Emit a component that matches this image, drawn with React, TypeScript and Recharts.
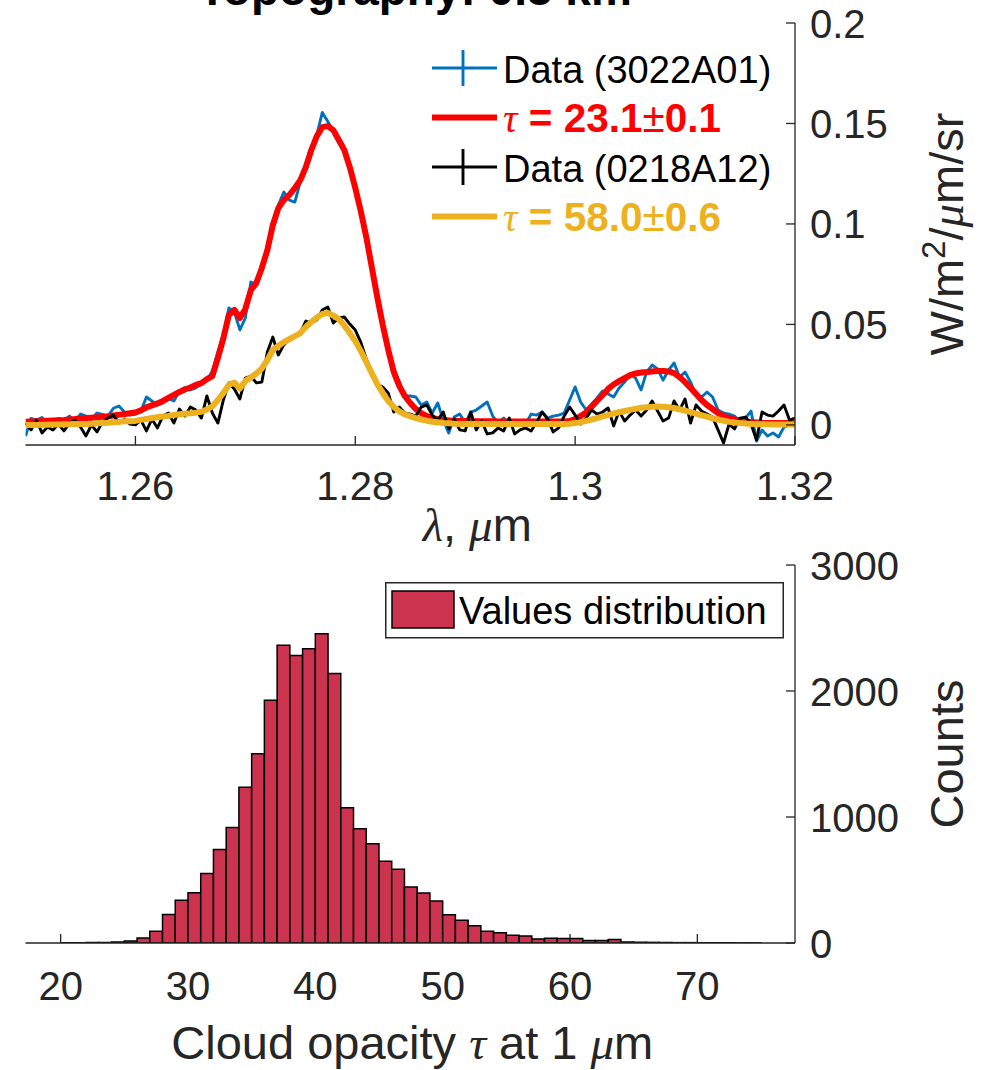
import React from 'react';
import { ComposedChart, Line, Bar, XAxis, YAxis, Legend } from 'recharts';

// wavelength grid, um
const lambda = [
  1.25, 1.2505, 1.251, 1.2515, 1.252, 1.2525, 1.253, 1.2535, 1.254, 1.2545,
  1.255, 1.2555, 1.256, 1.2565, 1.257, 1.2575, 1.258, 1.2585, 1.259, 1.2595,
  1.26, 1.2605, 1.261, 1.2615, 1.262, 1.2625, 1.263, 1.2635, 1.264, 1.2645,
  1.265, 1.2655, 1.266, 1.2665, 1.267, 1.2675, 1.268, 1.2685, 1.269, 1.2695,
  1.27, 1.2705, 1.271, 1.2715, 1.272, 1.2725, 1.273, 1.2735, 1.274, 1.2745,
  1.275, 1.2755, 1.276, 1.2765, 1.277, 1.2775, 1.278, 1.2785, 1.279, 1.2795,
  1.28, 1.2805, 1.281, 1.2815, 1.282, 1.2825, 1.283, 1.2835, 1.284, 1.2845,
  1.285, 1.2855, 1.286, 1.2865, 1.287, 1.2875, 1.288, 1.2885, 1.289, 1.2895,
  1.29, 1.2905, 1.291, 1.2915, 1.292, 1.2925, 1.293, 1.2935, 1.294, 1.2945,
  1.295, 1.2955, 1.296, 1.2965, 1.297, 1.2975, 1.298, 1.2985, 1.299, 1.2995,
  1.3, 1.3005, 1.301, 1.3015, 1.302, 1.3025, 1.303, 1.3035, 1.304, 1.3045,
  1.305, 1.3055, 1.306, 1.3065, 1.307, 1.3075, 1.308, 1.3085, 1.309, 1.3095,
  1.31, 1.3105, 1.311, 1.3115, 1.312, 1.3125, 1.313, 1.3135, 1.314, 1.3145,
  1.315, 1.3155, 1.316, 1.3165, 1.317, 1.3175, 1.318, 1.3185, 1.319, 1.3195,
  1.32,
];

// W/m2/um/sr
const data3022 = [
  -0.0055, 0.0032, 0.0024, 0.0037, 0.0004, 0.0019, 0.0032, 0.0024, 0.0044, 0.0017,
  0.0054, 0.0044, 0.0027, 0.0059, 0.0052, 0.0044, 0.0083, 0.0094, 0.0064, 0.0049,
  0.0054, 0.0069, 0.0139, 0.0119, 0.0099, 0.0109, 0.0131, 0.0119, 0.0169, 0.0186,
  0.0174, 0.0184, 0.0208, 0.0223, 0.0268, 0.0363, 0.0447, 0.0582, 0.0562, 0.0473,
  0.0532, 0.0711, 0.0701, 0.0771, 0.086, 0.101, 0.1094, 0.1159, 0.1119, 0.1109,
  0.1209, 0.1279, 0.1368, 0.1443, 0.1555, 0.151, 0.1462, 0.1403, 0.1368, 0.1298,
  0.1189, 0.1079, 0.093, 0.0781, 0.0621, 0.0487, 0.0373, 0.0283, 0.0213, 0.0144,
  0.0144, 0.0139, 0.0099, 0.0114, 0.0059, 0.0109, 0.0024, -0.004, 0.0039, 0.0054,
  0.0009, 0.0064, 0.0074, 0.0094, 0.0114, 0.0044, 0.0009, 0.0034, 0.0004, 0.0014,
  0.0009, 0.0004, 0.0054, 0.0049, 0.0064, 0.0034, 0.0044, 0.0049, 0.0059, 0.0124,
  0.0189, 0.0114, 0.0074, 0.0104, 0.0134, 0.0169, 0.0154, 0.0139, 0.0184, 0.0213,
  0.0253, 0.0233, 0.0174, 0.0263, 0.0298, 0.0278, 0.0223, 0.0273, 0.0308, 0.0238,
  0.0263, 0.0213, 0.0149, 0.0139, 0.0164, 0.0139, 0.0074, 0.0059, 0.0054, 0.0044,
  0.0014, 0.0034, 0.0069, -0.008, -0.0025, -0.0055, -0.004, -0.006, -0.0011, 0.0,
  0.0009,
];

const fit3022 = [
  0.0016, 0.0017, 0.0018, 0.0019, 0.0021, 0.0022, 0.0023, 0.0024, 0.0027, 0.0029,
  0.0032, 0.0034, 0.0036, 0.0038, 0.004, 0.0043, 0.0047, 0.005, 0.0054, 0.0058,
  0.0062, 0.0072, 0.0087, 0.0097, 0.0107, 0.0119, 0.0134, 0.0149, 0.0164, 0.0176,
  0.0186, 0.0199, 0.0208, 0.0228, 0.0243, 0.0333, 0.0432, 0.0547, 0.0572, 0.0532,
  0.0577, 0.0671, 0.0706, 0.0781, 0.087, 0.0995, 0.1079, 0.1119, 0.1144, 0.1179,
  0.1218, 0.1283, 0.1368, 0.1437, 0.1482, 0.1487, 0.1467, 0.1418, 0.1368, 0.1283,
  0.1179, 0.1064, 0.0935, 0.0786, 0.0636, 0.0497, 0.0373, 0.0263, 0.0194, 0.0144,
  0.0109, 0.0079, 0.0059, 0.0044, 0.0034, 0.0029, 0.0024, 0.0022, 0.0019, 0.0019,
  0.0019, 0.0019, 0.0018, 0.0018, 0.0018, 0.0018, 0.0017, 0.0017, 0.0017, 0.0017,
  0.0017, 0.0017, 0.0017, 0.0017, 0.0017, 0.0017, 0.0017, 0.0017, 0.0017, 0.0019,
  0.0029, 0.0044, 0.0062, 0.009, 0.012, 0.0149, 0.0179, 0.0201, 0.0218, 0.0233,
  0.0248, 0.0256, 0.0261, 0.0263, 0.0266, 0.0268, 0.0268, 0.0266, 0.0258, 0.0238,
  0.0213, 0.0184, 0.0154, 0.0124, 0.0099, 0.0079, 0.0059, 0.0044, 0.0034, 0.0027,
  0.0022, 0.0017, 0.0014, 0.0012, 0.0009, 0.0009, 0.0009, 0.0009, 0.0009, 0.0009,
  0.0009,
];

const data0218 = [
  0.0009, -0.0025, 0.0024, -0.004, -0.001, -0.0025, 0.0004, -0.003, 0.0009, 0.0024,
  -0.001, -0.0055, 0.0, -0.0035, 0.0014, 0.0034, 0.0049, 0.0009, 0.0029, 0.0004,
  0.0, 0.0024, -0.003, 0.0029, -0.0015, 0.0044, 0.0059, 0.0009, 0.0079, 0.0044,
  0.0089, 0.0074, 0.0034, 0.0144, 0.0059, 0.0009, 0.0124, 0.0209, 0.0179, 0.0129,
  0.0233, 0.0243, 0.0209, 0.0213, 0.0363, 0.0437, 0.0348, 0.0398, 0.0427, 0.0442,
  0.0457, 0.0517, 0.0507, 0.0522, 0.0572, 0.0587, 0.0507, 0.0532, 0.0537, 0.0502,
  0.0472, 0.0412, 0.0328, 0.0268, 0.0203, 0.0189, 0.0159, 0.0064, 0.0089, 0.0059,
  0.0054, 0.0044, 0.0089, 0.0099, 0.0049, 0.0024, 0.0064, -0.002, 0.0029, -0.0025,
  -0.003, 0.0064, -0.0025, 0.0019, -0.0045, -0.004, -0.0015, -0.003, 0.0034, -0.0045,
  -0.0025, -0.0015, -0.003, 0.0014, 0.0064, 0.0029, -0.0035, -0.0015, 0.0044, 0.0089,
  0.0049, 0.0004, 0.0034, 0.0074, 0.0054, 0.0064, 0.0084, -0.0005, 0.0069, 0.0019,
  0.0049, 0.0074, 0.0044, 0.0074, 0.0119, 0.0069, 0.0019, 0.0034, 0.0119, 0.0074,
  0.0129, 0.0009, 0.0099, 0.0069, 0.0054, 0.0039, -0.0025, -0.009, 0.0004, -0.002,
  0.0034, 0.0039, 0.0004, -0.0075, 0.0064, 0.0049, 0.0044, 0.0069, 0.0099, 0.0024,
  0.0034,
];

const fit0218 = [
  0.0, 0.0, 0.0, 0.0001, 0.0001, 0.0002, 0.0002, 0.0003, 0.0003, 0.0004,
  0.0004, 0.0005, 0.0006, 0.0008, 0.001, 0.0011, 0.0013, 0.0015, 0.0018, 0.0018,
  0.002, 0.0025, 0.0029, 0.0034, 0.0038, 0.0042, 0.0045, 0.0049, 0.0053, 0.0056,
  0.0058, 0.0061, 0.0065, 0.0077, 0.0092, 0.0124, 0.0159, 0.0199, 0.0211, 0.0181,
  0.0218, 0.0236, 0.0256, 0.0281, 0.0323, 0.0373, 0.0393, 0.0412, 0.0427, 0.0442,
  0.0457, 0.0487, 0.0512, 0.0534, 0.0552, 0.0557, 0.0544, 0.0527, 0.0495, 0.0457,
  0.0417, 0.0368, 0.0313, 0.0258, 0.0203, 0.0159, 0.0119, 0.0089, 0.0067, 0.0052,
  0.0043, 0.0034, 0.0027, 0.0021, 0.0016, 0.0013, 0.001, 0.0008, 0.0006, 0.0005,
  0.0005, 0.0005, 0.0004, 0.0004, 0.0004, 0.0004, 0.0004, 0.0004, 0.0004, 0.0004,
  0.0004, 0.0004, 0.0004, 0.0004, 0.0004, 0.0004, 0.0004, 0.0004, 0.0004, 0.0006,
  0.0009, 0.0014, 0.002, 0.0027, 0.0034, 0.0042, 0.0049, 0.0057, 0.0063, 0.0069,
  0.0075, 0.008, 0.0085, 0.0088, 0.009, 0.0091, 0.009, 0.0088, 0.0084, 0.0078,
  0.0071, 0.0064, 0.0056, 0.0048, 0.0041, 0.0033, 0.0027, 0.0021, 0.0016, 0.0012,
  0.0009, 0.0007, 0.0005, 0.0004, 0.0003, 0.0003, 0.0002, 0.0002, 0.0002, 0.0002,
  0.0002,
];

// histogram: bin centres and counts
const tauBins = [
  20.5, 21.5, 22.5, 23.5, 24.5, 25.5, 26.5, 27.5, 28.5, 29.5,
  30.5, 31.5, 32.5, 33.5, 34.5, 35.5, 36.5, 37.5, 38.5, 39.5,
  40.5, 41.5, 42.5, 43.5, 44.5, 45.5, 46.5, 47.5, 48.5, 49.5,
  50.5, 51.5, 52.5, 53.5, 54.5, 55.5, 56.5, 57.5, 58.5, 59.5,
  60.5, 61.5, 62.5, 63.5, 64.5, 65.5, 66.5, 67.5, 68.5, 69.5,
  70.5, 71.5, 72.5, 73.5, 74.5,
];
const tauCounts = [
  2, 2, 3, 4, 7, 15, 40, 94, 226, 340,
  398, 552, 742, 917, 1237, 1502, 1927, 2363, 2282, 2335,
  2454, 2139, 1073, 906, 787, 648, 585, 444, 397, 333,
  225, 180, 137, 93, 82, 61, 55, 32, 37, 35,
  35, 19, 19, 27, 8, 6, 5, 4, 3, 3,
  2, 2, 2, 1, 1,
];

const lambdaTicks = [1.26, 1.28, 1.3, 1.32];
const radianceTicks = [0, 0.05, 0.1, 0.15, 0.2];
const tauTicks = [20, 30, 40, 50, 60, 70];
const countTicks = [0, 1000, 2000, 3000];
const legendOrder = ['d1', 'f1', 'd2', 'f2'];

const spectra = lambda.map((lam, i) => ({
  lam,
  d1: data3022[i],
  f1: fit3022[i],
  d2: data0218[i],
  f2: fit0218[i],
}));
const hist = tauBins.map((tau, i) => ({ tau, count: tauCounts[i] }));

const SANS = '"Liberation Sans", Arial, Helvetica, sans-serif';
const SERIF = '"Liberation Serif", "Times New Roman", serif';
const AXIS = '#262626';
const BAR = '#CB334E';
const TICK_LEN = 9;
const TICK_FONT = 40;
const LABEL_FONT = 47;
const NOISE_W = 2.9;
const FIT_W = 6;

function XTick(props: any) {
  const { x, y, payload, side, dy } = props;
  const inward = side === 'bottom' ? -TICK_LEN : TICK_LEN;
  return (
    <g>
      <line x1={x} y1={y} x2={x} y2={y + inward} stroke={AXIS} strokeWidth={1.3} />
      {side === 'bottom' && (
        <text x={x} y={y + dy} textAnchor="middle" fontFamily={SANS} fontSize={TICK_FONT} fill={AXIS}>
          {String(payload.value)}
        </text>
      )}
    </g>
  );
}

function YTick(props: any) {
  const { x, y, payload, side } = props;
  const inward = side === 'right' ? -TICK_LEN : TICK_LEN;
  return (
    <g>
      <line x1={x} y1={y} x2={x + inward} y2={y} stroke={AXIS} strokeWidth={1.3} />
      {side === 'right' && (
        <text x={x + 15} y={y + 14.5} textAnchor="start" fontFamily={SANS} fontSize={TICK_FONT} fill={AXIS}>
          {String(payload.value)}
        </text>
      )}
    </g>
  );
}

const axisLine = { stroke: AXIS, strokeWidth: 1.3 };

function SpectraLegend(props: any) {
  const items = [...(props.payload || [])].sort(
    (a: any, b: any) => legendOrder.indexOf(String(a.dataKey)) - legendOrder.indexOf(String(b.dataKey)),
  );
  return (
    <svg width={370} height={200} style={{ overflow: 'visible' }}>
      {items.map((it: any, i: number) => {
        const cy = 28 + i * 49.5;
        const isFit = String(it.dataKey).startsWith('f');
        const name = String(it.value);
        const pm = name.indexOf('±');
        return (
          <g key={i}>
            <line x1={7} y1={cy} x2={72} y2={cy} stroke={it.color} strokeWidth={isFit ? FIT_W : NOISE_W} />
            {!isFit && <line x1={38} y1={cy - 18} x2={38} y2={cy + 18} stroke={it.color} strokeWidth={NOISE_W} />}
            {isFit ? (
              <text x={78} y={cy + 14.5} fontFamily={SANS} fontSize={40.5} fill={it.color}>
                <tspan fontFamily={SERIF} fontStyle="italic">{name.slice(0, 1)}</tspan>
                <tspan fontWeight="bold">{name.slice(1, pm)}</tspan>
                <tspan>±</tspan>
                <tspan fontWeight="bold">{name.slice(pm + 1)}</tspan>
              </text>
            ) : (
              <text x={78} y={cy + 14.5} fontFamily={SANS} fontSize={38} fill="#000">
                {name}
              </text>
            )}
          </g>
        );
      })}
    </svg>
  );
}

function HistLegend(props: any) {
  const it = (props.payload || [])[0];
  return (
    <svg width={400} height={58}>
      <rect x={0.75} y={0.75} width={397.5} height={55} fill="#fff" stroke={AXIS} strokeWidth={1.5} />
      <rect x={7} y={9} width={62} height={37} fill={it ? it.color : BAR} stroke="#000" strokeWidth={1.5} />
      <text x={74} y={42} fontFamily={SANS} fontSize={38} fill="#000">
        {it ? it.value : 'Values distribution'}
      </text>
    </svg>
  );
}

export default function App() {
  return (
    <div style={{ position: 'absolute', left: 0, top: 0, width: 986, height: 1070, background: '#fff', overflow: 'hidden' }}>
      <svg width={986} height={30} style={{ position: 'absolute', left: 0, top: 0 }}>
        <text x={415} y={5} textAnchor="middle" fontFamily={SANS} fontWeight="bold" fontSize={46} fill="#000">
          Topography: 0.5 km
        </text>
      </svg>

      <div style={{ position: 'absolute', left: 0, top: 0 }}>
        <ComposedChart width={986} height={555} data={spectra} margin={{ top: 23, right: 0, bottom: 0, left: 25.5 }}>
          <XAxis
            xAxisId="b"
            dataKey="lam"
            type="number"
            domain={[1.25, 1.32]}
            ticks={lambdaTicks}
            interval={0}
            allowDataOverflow
            height={110}
            tickSize={0}
            tickMargin={0}
            tickLine={false}
            axisLine={axisLine}
            tick={(p: any) => <XTick {...p} side="bottom" dy={55} />}
            label={(p: any) => {
              const vb = p.viewBox;
              return (
                <text x={vb.x + vb.width / 2 + 67} y={vb.y + 96} textAnchor="middle" fontFamily={SANS} fontSize={LABEL_FONT} fill={AXIS}>
                  <tspan fontFamily={SERIF} fontStyle="italic">λ</tspan>
                  <tspan>, </tspan>
                  <tspan fontFamily={SERIF} fontStyle="italic">μ</tspan>
                  <tspan>m</tspan>
                </text>
              );
            }}
          />
          <XAxis
            xAxisId="t"
            dataKey="lam"
            type="number"
            orientation="top"
            domain={[1.25, 1.32]}
            ticks={lambdaTicks}
            interval={0}
            allowDataOverflow
            height={0}
            tickSize={0}
            tickMargin={0}
            tickLine={false}
            axisLine={axisLine}
            tick={(p: any) => <XTick {...p} side="top" />}
          />
          <YAxis
            yAxisId="r"
            orientation="right"
            type="number"
            domain={[-0.01, 0.2]}
            ticks={radianceTicks}
            interval={0}
            allowDataOverflow
            width={191}
            tickSize={0}
            tickMargin={0}
            tickLine={false}
            axisLine={axisLine}
            tick={(p: any) => <YTick {...p} side="right" />}
            label={(p: any) => {
              const vb = p.viewBox;
              const cx = vb.x + 168;
              const cy = vb.y + vb.height / 2;
              return (
                <text x={cx} y={cy} transform={`rotate(-90, ${cx}, ${cy})`} textAnchor="middle" fontFamily={SANS} fontSize={LABEL_FONT} fill={AXIS}>
                  <tspan>W/m</tspan>
                  <tspan dy={-18} fontSize={33}>2</tspan>
                  <tspan dy={18}>/</tspan>
                  <tspan fontFamily={SERIF} fontStyle="italic">μ</tspan>
                  <tspan>m/sr</tspan>
                </text>
              );
            }}
          />
          <YAxis
            yAxisId="l"
            orientation="left"
            type="number"
            domain={[-0.01, 0.2]}
            ticks={radianceTicks}
            interval={0}
            allowDataOverflow
            width={0}
            tickSize={0}
            tickMargin={0}
            tickLine={false}
            axisLine={axisLine}
            tick={(p: any) => <YTick {...p} side="left" />}
          />
          <Line xAxisId="b" yAxisId="r" type="linear" dataKey="d1" name="Data (3022A01)" stroke="#0072BD" strokeWidth={NOISE_W} strokeLinejoin="round" dot={false} isAnimationActive={false} />
          <Line xAxisId="b" yAxisId="r" type="linear" dataKey="f1" name="τ = 23.1±0.1" stroke="#FF0000" strokeWidth={FIT_W} strokeLinejoin="round" dot={false} isAnimationActive={false} />
          <Line xAxisId="b" yAxisId="r" type="linear" dataKey="d2" name="Data (0218A12)" stroke="#000000" strokeWidth={NOISE_W} strokeLinejoin="round" dot={false} isAnimationActive={false} />
          <Line xAxisId="b" yAxisId="r" type="linear" dataKey="f2" name="τ = 58.0±0.6" stroke="#EDB120" strokeWidth={FIT_W} strokeLinejoin="round" dot={false} isAnimationActive={false} />
          <Legend
            layout="vertical"
            align="center"
            verticalAlign="middle"
            wrapperStyle={{ left: 425, top: 40, width: 370, height: 200 }}
            content={(p: any) => <SpectraLegend {...p} />}
          />
        </ComposedChart>
      </div>

      <div style={{ position: 'absolute', left: 0, top: 530 }}>
        <ComposedChart width={986} height={540} data={hist} margin={{ top: 35, right: 0, bottom: 0, left: 25.5 }}>
          <XAxis
            xAxisId="b"
            dataKey="tau"
            type="number"
            domain={[17.24, 77.67]}
            ticks={tauTicks}
            interval={0}
            allowDataOverflow
            height={127}
            tickSize={0}
            tickMargin={0}
            tickLine={false}
            axisLine={axisLine}
            tick={(p: any) => <XTick {...p} side="bottom" dy={57} />}
            label={(p: any) => {
              const vb = p.viewBox;
              return (
                <text x={vb.x + vb.width / 2 + 2} y={vb.y + 116} textAnchor="middle" fontFamily={SANS} fontSize={LABEL_FONT} fill={AXIS}>
                  <tspan>Cloud opacity </tspan>
                  <tspan fontFamily={SERIF} fontStyle="italic">τ</tspan>
                  <tspan> at 1 </tspan>
                  <tspan fontFamily={SERIF} fontStyle="italic">μ</tspan>
                  <tspan>m</tspan>
                </text>
              );
            }}
          />
          <XAxis
            xAxisId="t"
            dataKey="tau"
            type="number"
            orientation="top"
            domain={[17.24, 77.67]}
            ticks={tauTicks}
            interval={0}
            allowDataOverflow
            height={0}
            tickSize={0}
            tickMargin={0}
            tickLine={false}
            axisLine={axisLine}
            tick={(p: any) => <XTick {...p} side="top" />}
          />
          <YAxis
            yAxisId="r"
            orientation="right"
            type="number"
            domain={[0, 3000]}
            ticks={countTicks}
            interval={0}
            allowDataOverflow
            width={191}
            tickSize={0}
            tickMargin={0}
            tickLine={false}
            axisLine={axisLine}
            tick={(p: any) => <YTick {...p} side="right" />}
            label={(p: any) => {
              const vb = p.viewBox;
              const cx = vb.x + 168;
              const cy = vb.y + vb.height / 2;
              return (
                <text x={cx} y={cy} transform={`rotate(-90, ${cx}, ${cy})`} textAnchor="middle" fontFamily={SANS} fontSize={LABEL_FONT} fill={AXIS}>
                  Counts
                </text>
              );
            }}
          />
          <YAxis
            yAxisId="l"
            orientation="left"
            type="number"
            domain={[0, 3000]}
            ticks={countTicks}
            interval={0}
            allowDataOverflow
            width={0}
            tickSize={0}
            tickMargin={0}
            tickLine={false}
            axisLine={axisLine}
            tick={(p: any) => <YTick {...p} side="left" />}
          />
          <Bar xAxisId="b" yAxisId="r" dataKey="count" name="Values distribution" fill={BAR} stroke="#000" strokeWidth={1.5} barSize={12.73} isAnimationActive={false} />
          <Legend
            layout="vertical"
            align="center"
            verticalAlign="middle"
            wrapperStyle={{ left: 385, top: 52, width: 400, height: 58 }}
            content={(p: any) => <HistLegend {...p} />}
          />
        </ComposedChart>
      </div>
    </div>
  );
}
